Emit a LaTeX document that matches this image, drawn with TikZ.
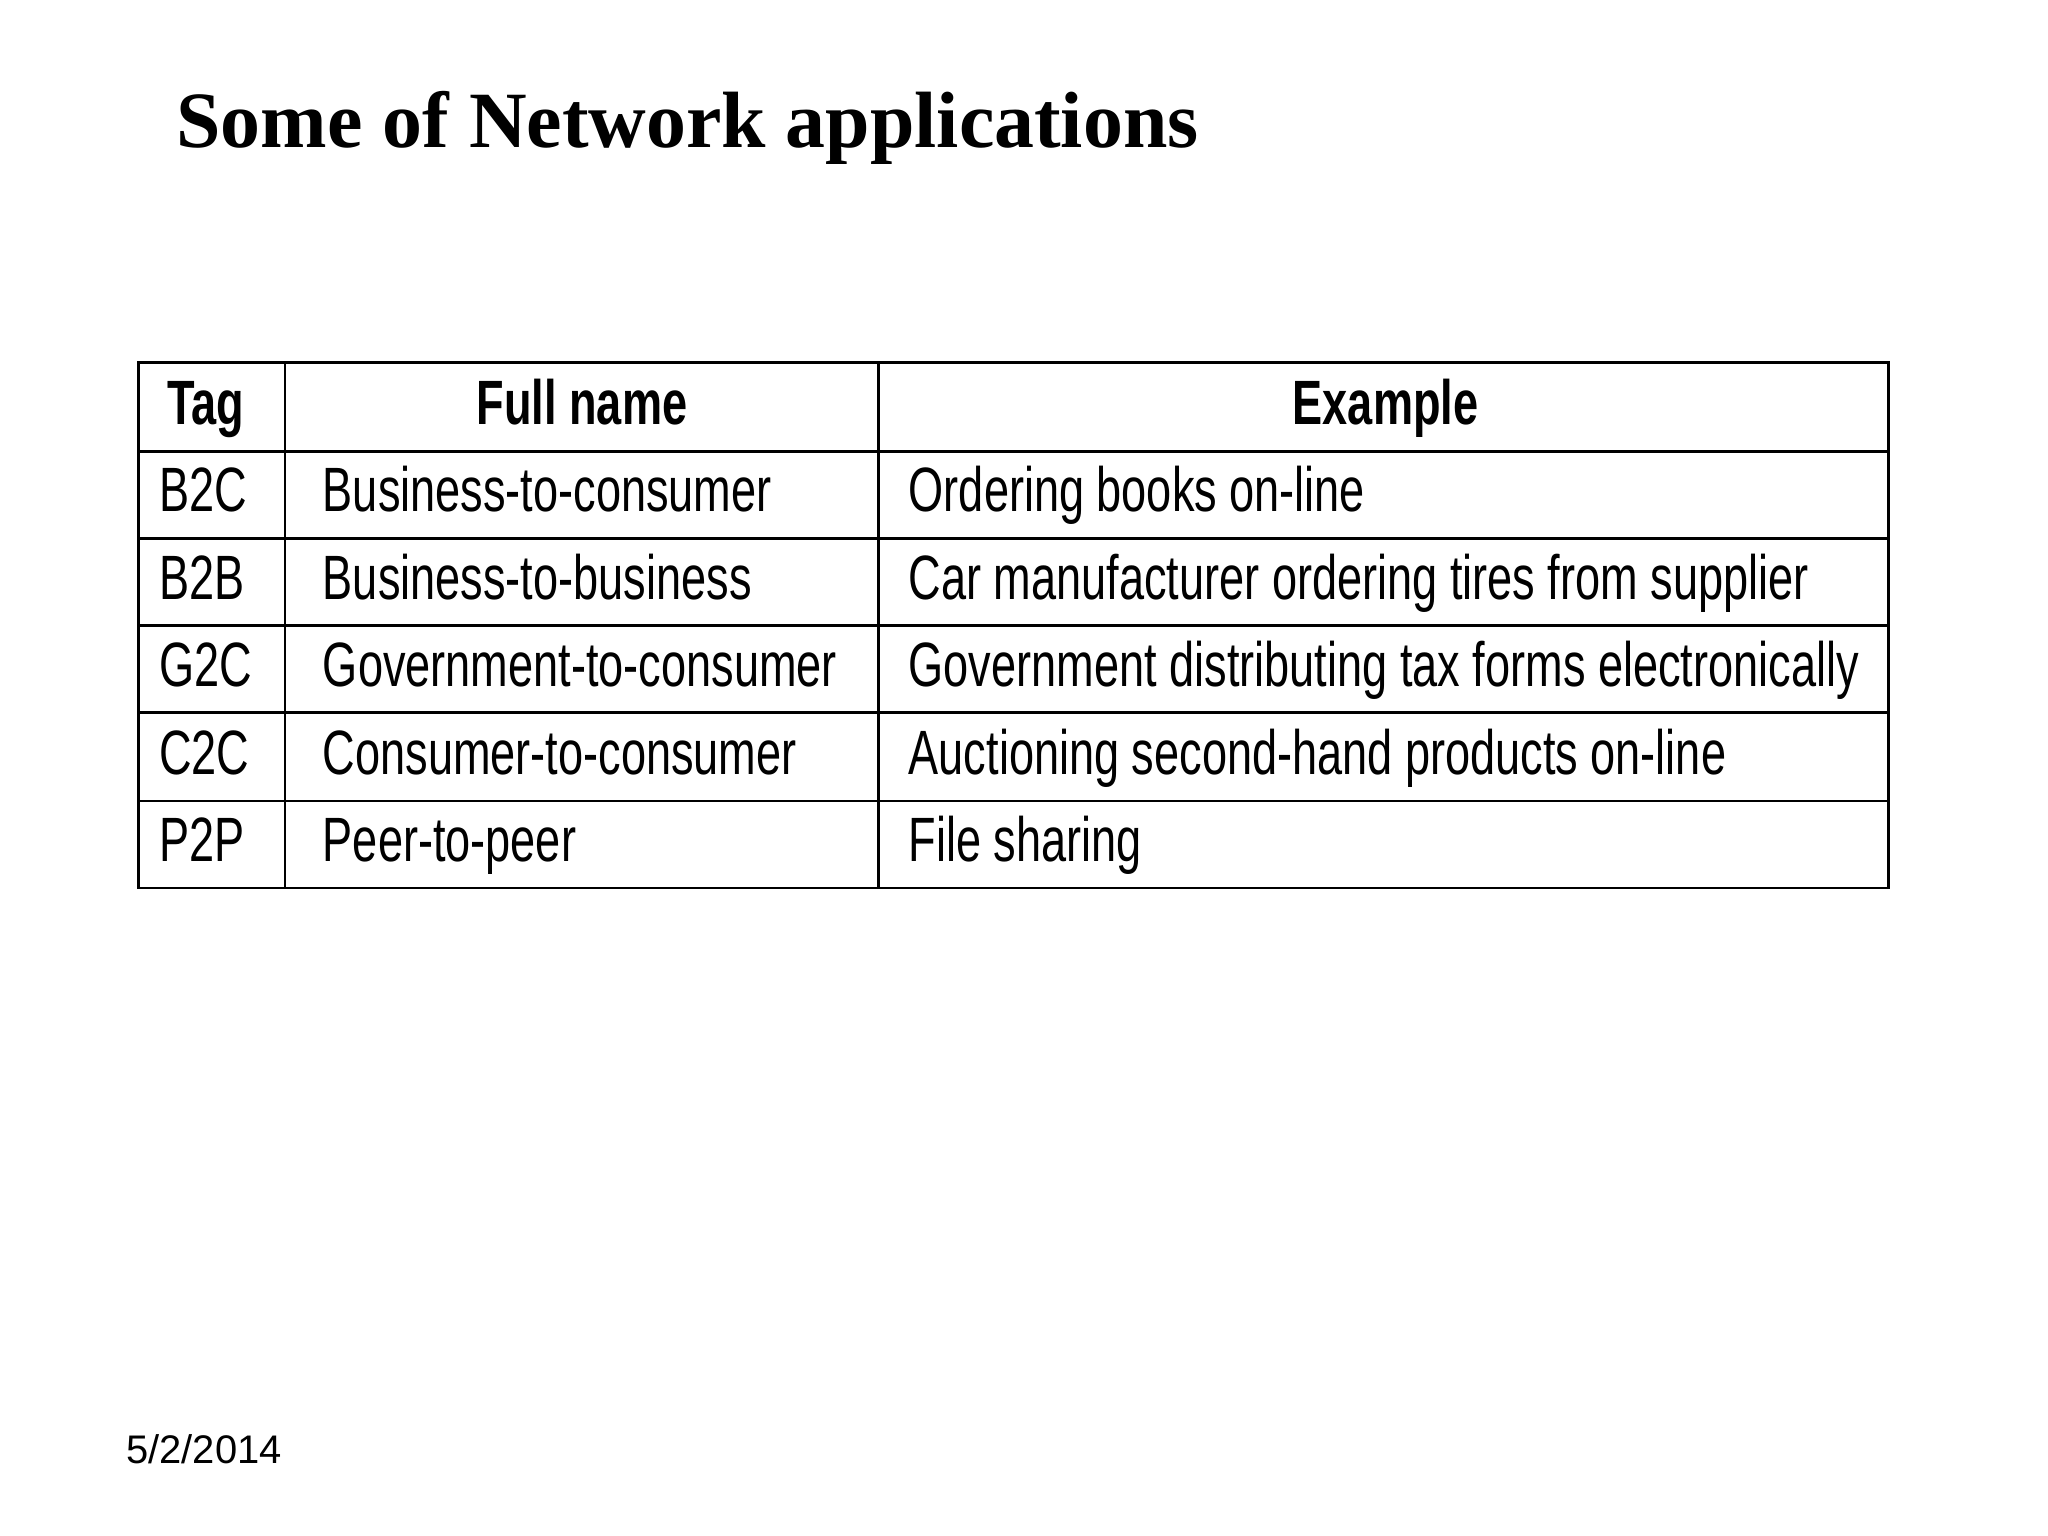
\documentclass[tikz,border=0pt]{standalone}
\usepackage{fontspec}
\setmainfont{Liberation Serif}
\newfontfamily\narrowf[FakeStretch=0.72]{Liberation Sans}
\newfontfamily\plainsans{Liberation Sans}
\begin{document}
\begin{tikzpicture}[x=0.01cm,y=-0.01cm,
  cell/.style={anchor=base west,inner sep=0pt,font=\narrowf\fontsize{13.5}{15}\selectfont},
  head/.style={anchor=base,inner sep=0pt,font=\narrowf\bfseries\fontsize{13.5}{15}\selectfont}]
\useasboundingbox (0,0) rectangle (1552,1164);
\node[anchor=west,inner sep=0pt,font=\bfseries\fontsize{17.2}{20}\selectfont] (title) at (133,97) {Some of Network applications};
\node[anchor=west,inner sep=0pt,font=\plainsans\fontsize{8.6}{10}\selectfont] (date) at (95,1098) {5/2/2014};
\draw[line width=0.6pt] (105,275) rectangle (1431,673);
\foreach \y in {342,408,474,540,607} \draw[line width=0.6pt] (105,\y) -- (1431,\y);
\foreach \x in {216,666} \draw[line width=0.6pt] (\x,275) -- (\x,673);
\node[head] (h1) at (156,322) {Tag};
\node[head] (h2) at (441,322) {Full name};
\node[head] (h3) at (1050,322) {Example};
\foreach \i/\t/\e [count=\n] in {B2C/Business-to-consumer/Ordering books on-line,
 B2B/Business-to-business/Car manufacturer ordering tires from supplier,
 G2C/Government-to-consumer/Government distributing tax forms electronically,
 C2C/Consumer-to-consumer/Auctioning second-hand products on-line,
 P2P/Peer-to-peer/File sharing}{
  \pgfmathsetmacro\yy{342+66.2*(\n-1)+46}
  \node[cell] (t\n) at (120,\yy) {\i};
  \node[cell] (f\n) at (244,\yy) {\t};
  \node[cell] (e\n) at (688,\yy) {\e};
}
\end{tikzpicture}
\end{document}
